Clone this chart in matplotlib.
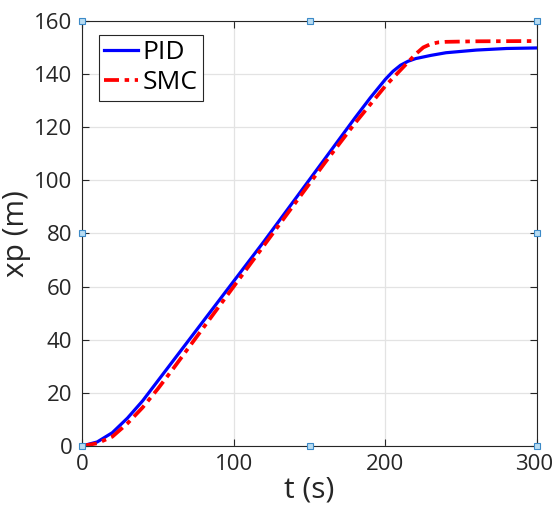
import matplotlib
matplotlib.use("Agg")
import matplotlib.pyplot as plt
from matplotlib.transforms import ScaledTranslation

# Data
t_pid = [0, 10, 20, 30, 40, 50, 60, 70, 80, 100, 120, 140, 160, 180, 190, 200,
         205, 210, 215, 220, 230, 240, 260, 280, 300]
x_pid = [0, 1.5, 5, 10.5, 17, 24.5, 32, 39.5, 47, 62, 77, 92.5, 108, 123.5, 131, 138,
         141, 143.3, 144.8, 145.8, 147, 148, 149, 149.6, 149.8]

t_smc = [0, 10, 20, 30, 40, 50, 60, 80, 100, 120, 140, 160, 180, 190, 200,
         210, 215, 220, 225, 230, 235, 240, 260, 300]
x_smc = [0, 1, 3.5, 8.5, 14.5, 21.5, 29, 44.5, 60, 75.5, 91, 106.5, 121.5, 128.5, 135.5,
         141.5, 144.5, 147.5, 150, 151.3, 151.9, 152.1, 152.3, 152.4]

xticks = [0, 100, 200, 300]
yticks = [0, 20, 40, 60, 80, 100, 120, 140, 160]

plt.rcParams['font.family'] = ['Open Sans', 'DejaVu Sans']
fig = plt.figure(figsize=(5.55, 5.21), dpi=100)
ax = fig.add_axes([0.1477, 0.144, 0.82, 0.816])

ax.plot(t_pid, x_pid, color='#0000ff', linewidth=2.3, label='PID')
ax.plot(t_smc, x_smc, color='#ff0000', linewidth=2.7, linestyle=(0, (4, 1.5, 1.2, 1.5)), label='SMC')

ax.set_xlim(0, 300)
ax.set_ylim(0, 160)
ax.set_xticks(xticks)
ax.set_yticks(yticks)
ax.grid(True, color='#e3e3e3', linewidth=0.9)
ax.set_axisbelow(True)
ax.tick_params(direction='in', length=5, top=True, right=True,
               labelsize=16, colors='#262626', width=0.8, pad=6)
ax.tick_params(axis='y', pad=7)
for s in ax.spines.values():
    s.set_color('#262626')
    s.set_linewidth(0.8)

# keep the last x label inside the figure
last = ax.get_xticklabels()[-1]
last.set_transform(last.get_transform() + ScaledTranslation(-3 / 100, 0, fig.dpi_scale_trans))

ax.set_xlabel('t (s)', fontsize=21.5, color='#262626', labelpad=0)
ax.set_ylabel('xp (m)', fontsize=21.5, color='#262626', labelpad=2)

leg = ax.legend(loc='upper left', fontsize=19, handlelength=1.3, handletextpad=0.15,
                borderpad=0.2, borderaxespad=0, labelspacing=0.2, fancybox=False,
                framealpha=1, bbox_to_anchor=(0.037, 0.967))
leg.get_frame().set_edgecolor('#262626')
leg.get_frame().set_linewidth(0.8)

# selection handles
hx = [0, 150, 300, 0, 300, 0, 150, 300]
hy = [0, 0, 0, 80, 80, 160, 160, 160]
ax.plot(hx, hy, linestyle='none', marker='s', markersize=5, markerfacecolor='#b8dcf2',
        markeredgecolor='#3c8ac8', markeredgewidth=0.8, clip_on=False, zorder=5)

fig.savefig('out.png', dpi=100)
